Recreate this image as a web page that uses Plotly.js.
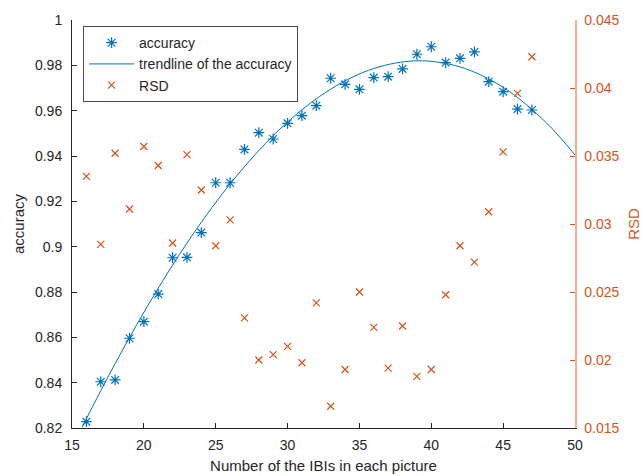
<!DOCTYPE html>
<html><head><meta charset="utf-8">
<script src="https://cdn.plot.ly/plotly-3.0.1.min.js"></script>
<style>html,body{margin:0;padding:0;background:#fff}</style>
</head><body><div id="chart" style="width:643px;height:476px"></div>
<script>
const ibiCounts = [16,17,18,19,20,21,22,23,24,25,26,27,28,29,30,31,32,33,34,35,36,37,38,39,40,41,42,43,44,45,46,47];
const accuracy = [0.8228,0.8404,0.8412,0.8596,0.8669,0.8791,0.8951,0.8953,0.9062,0.9282,0.9282,0.9429,0.9503,0.9475,0.9544,0.9578,0.9622,0.9743,0.9716,0.9694,0.9746,0.9750,0.9784,0.9849,0.9882,0.9812,0.9831,0.9859,0.9728,0.9684,0.9607,0.9603];
const rsd = [0.0335,0.0285,0.0352,0.0311,0.0357,0.0343,0.0286,0.0351,0.0325,0.0284,0.0303,0.0231,0.0200,0.0204,0.0210,0.0198,0.0242,0.0166,0.0193,0.0250,0.0224,0.0194,0.0225,0.0188,0.0193,0.0248,0.0284,0.0272,0.0309,0.0353,0.0396,0.0423];
const trendX = [15.7,18,21,24,27,30,33,36,39,42,45,48,50];
const trendY = [0.8203,0.8484,0.8817,0.9108,0.9353,0.9550,0.9695,0.9786,0.9820,0.9793,0.9703,0.9547,0.9404];
const xTicks = [15,20,25,30,35,40,45,50];
const xTickText = ['15','20','25','30','35','40','45','50'];
const yTicks = [0.82,0.84,0.86,0.88,0.9,0.92,0.94,0.96,0.98,1];
const yTickText = ['0.82','0.84','0.86','0.88','0.9','0.92','0.94','0.96','0.98','1'];
const y2Ticks = [0.015,0.02,0.025,0.03,0.035,0.04,0.045];
const y2TickText = ['0.015','0.02','0.025','0.03','0.035','0.04','0.045'];

const BLUE = '#0072BD', ORANGE = '#D95319', DARK = '#262626';
const FONT = 'Liberation Sans, Arial, sans-serif';

const traces = [
  {x: ibiCounts, y: accuracy, type: 'scatter', mode: 'markers', name: 'accuracy',
   marker: {symbol: 'asterisk-open', size: 9, color: BLUE, line: {color: BLUE, width: 1.2}}},
  {x: trendX, y: trendY, type: 'scatter', mode: 'lines', name: 'trendline of the accuracy',
   line: {color: BLUE, width: 1, shape: 'spline', smoothing: 1}},
  {x: ibiCounts, y: rsd, type: 'scatter', mode: 'markers', name: 'RSD', yaxis: 'y2',
   marker: {symbol: 'x-thin-open', size: 7, color: ORANGE, line: {color: ORANGE, width: 1.2}}}
];

const layout = {
  width: 643, height: 476,
  margin: {l: 72, r: 68, t: 20, b: 48},
  paper_bgcolor: '#fff', plot_bgcolor: '#fff',
  font: {family: FONT, size: 14, color: DARK},
  showlegend: true,
  legend: {x: 0.022, y: 0.985, xanchor: 'left', yanchor: 'top',
    bgcolor: '#fff', bordercolor: '#4d4d4d', borderwidth: 1,
    font: {family: FONT, size: 14, color: DARK}, itemwidth: 45, tracegroupgap: 0},
  xaxis: {range: [15, 50], tickvals: xTicks, ticktext: xTickText,
    ticks: 'inside', ticklen: 5, tickcolor: DARK, showline: true, linecolor: DARK, linewidth: 1,
    showgrid: false, zeroline: false, ticklabelstandoff: 4,
    tickfont: {family: FONT, size: 14, color: DARK},
    title: {text: 'Number of the IBIs in each picture', font: {family: FONT, size: 15, color: DARK}, standoff: 8}},
  yaxis: {range: [0.82, 1], tickvals: yTicks, ticktext: yTickText,
    ticks: 'inside', ticklen: 5, tickcolor: DARK, showline: true, linecolor: DARK, linewidth: 1,
    showgrid: false, zeroline: false, ticklabelstandoff: 6,
    tickfont: {family: FONT, size: 14, color: DARK},
    title: {text: 'accuracy', font: {family: FONT, size: 15, color: DARK}, standoff: 6}},
  yaxis2: {range: [0.015, 0.045], overlaying: 'y', side: 'right', anchor: 'x',
    tickvals: y2Ticks, ticktext: y2TickText,
    ticks: 'inside', ticklen: 5, tickcolor: ORANGE, showline: true, linecolor: '#EFAE96', linewidth: 1.5,
    showgrid: false, zeroline: false, ticklabelstandoff: 5,
    tickfont: {family: FONT, size: 14, color: ORANGE},
    title: {text: 'RSD', font: {family: FONT, size: 15, color: ORANGE}, standoff: 10}}
};

Plotly.newPlot('chart', traces, layout, {staticPlot: true, displayModeBar: false});
</script>
</body></html>
